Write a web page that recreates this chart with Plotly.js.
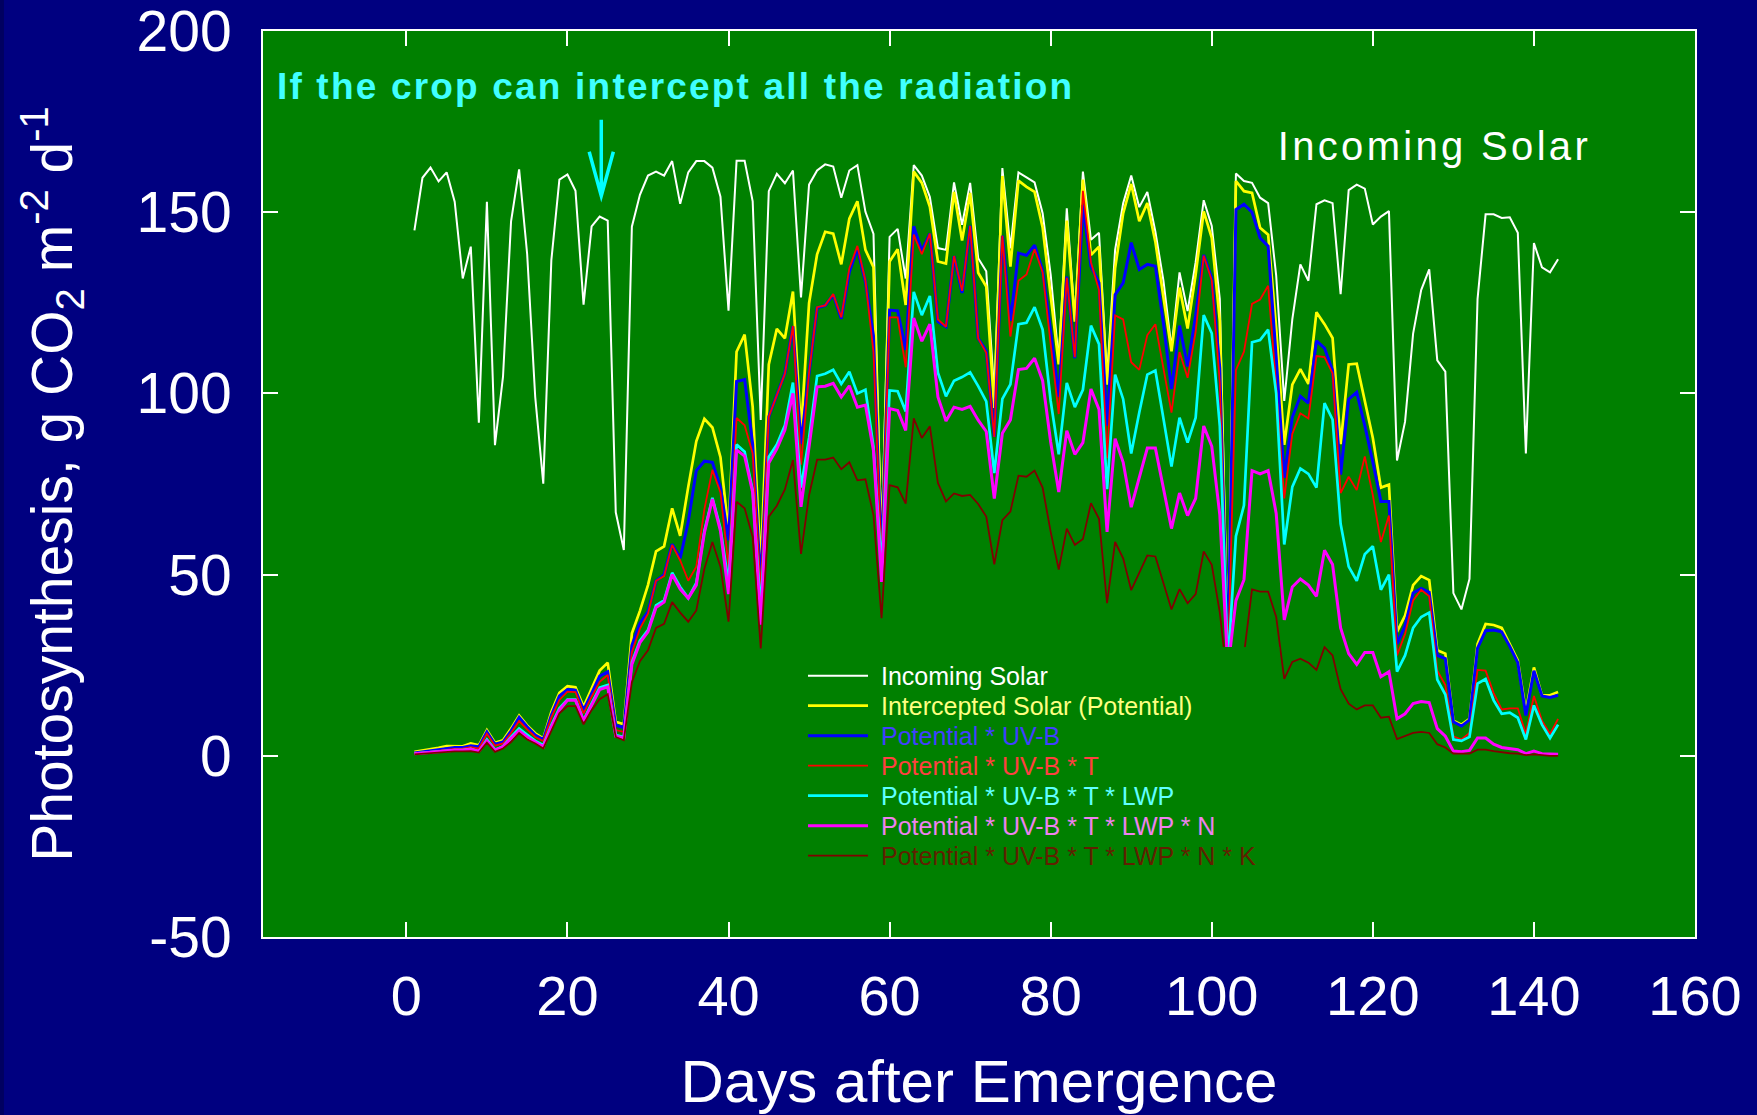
<!DOCTYPE html>
<html>
<head>
<meta charset="utf-8">
<script src="https://cdn.plot.ly/plotly-3.0.1.min.js"></script>
<style>html,body{margin:0;padding:0;background:#000080;}</style>
</head>
<body>
<div id="chart" style="width:1757px;height:1115px;"></div>
<script>
var days = [1,2,3,4,5,6,7,8,9,10,11,12,13,14,15,16,17,18,19,20,21,22,23,24,25,26,27,28,29,30,
31,32,33,34,35,36,37,38,39,40,41,42,43,44,45,46,47,48,49,50,51,52,53,54,55,56,57,58,59,60,
61,62,63,64,65,66,67,68,69,70,71,72,73,74,75,76,77,78,79,80,81,82,83,84,85,86,87,88,89,90,
91,92,93,94,95,96,97,98,99,100,101,102,103,104,105,106,107,108,109,110,111,112,113,114,115,116,117,118,119,120,
121,122,123,124,125,126,127,128,129,130,131,132,133,134,135,136,137,138,139,140,141,142,143];

var incomingSolar = [145.0,159.5,162.3,158.5,161.0,152.9,131.7,140.5,91.9,152.9,85.7,104.6,147.5,161.8,138.4,99.0,75.1,136.7,159.0,160.4,
155.9,124.5,146.1,148.8,147.7,67.2,56.8,146.0,154.8,160.1,161.2,160.1,164.1,152.3,161.0,164.1,164.1,162.3,154.3,122.8,
164.2,164.2,153.0,92.7,155.8,160.6,158.0,161.5,126.5,157.6,161.5,163.2,162.6,154.0,161.5,163.0,150.1,144.0,58,143.2,
145.4,131.7,163.0,160.1,154.2,140.1,139.6,158.2,146.5,158.1,137.3,133.7,100,162.2,140,161.0,159.6,158.2,149.7,132.8,
109.1,151.1,120.4,161.2,142.4,144.3,104.6,139.6,152.5,160.1,151.4,155.6,144.6,131.1,112.5,133.4,122.7,136.2,153.3,146.2,
126,28,160.7,158.6,158.1,154.0,152.5,132.5,97.9,120.4,135.6,131.1,152.2,153.3,152.5,127.4,156.1,157.6,156.5,146.6,
148.8,150.3,81.5,92.2,116.5,128.5,134.2,109.1,106.0,44.9,40.4,48.8,126.0,149.4,149.4,148.4,148.6,144.3,83.4,141.5,
134.8,133.4,137.0];

var intercepted = [1.1,1.4,1.7,2.2,2.7,2.7,2.6,3.4,2.9,7.1,3.6,4.3,7.5,11.1,8.4,6.2,4.8,12.1,17.4,19.2,
18.9,13.5,18.3,23.5,25.7,9.4,8.7,33.8,40.0,47.1,56.4,57.8,68.3,60.7,74.2,86.8,93.0,90.6,82.4,61.8,
111.5,116.2,96.3,52,108.0,117.8,115.2,128.1,89.5,124.9,138.4,144.6,144.1,135.6,148.2,153.0,139.6,134.8,56,136.4,
139.8,124.4,161.2,158.1,151.5,136.4,135.8,155.6,142.2,155.3,133.3,129.5,96,160.0,135.0,158.7,157.0,155.6,145.8,127.2,
108.0,147.7,119.8,159.0,138.2,140.5,102.4,134.5,149.7,157.8,147.5,152.5,141.8,126.6,111.6,129.2,117.9,132.8,150.2,142.9,
120,27,158.6,155.8,155.3,145.7,143.8,118,85.8,102.4,106.7,102.6,122.4,119.1,115.3,86.0,108.0,108.2,97.9,87.7,
74.0,74.8,34.2,38.7,47.1,49.6,48.5,29.1,28.2,9.7,8.6,10.2,30.8,36.4,36.1,35.3,30.8,26.3,12.2,24.4,
16.7,16.7,17.6];

var uvb = [0.8,1.1,1.4,1.8,2.2,2.3,2.3,2.8,2.5,6.6,3.2,3.8,6.9,10.6,8.0,5.7,4.5,11.2,16.5,18.3,
18.1,12.6,17.2,22.0,23.2,8.4,7.8,30.5,36.5,39.8,48.3,50.0,58.4,54.5,64.6,78.7,81.3,81.0,74.0,59.5,
103.3,103.8,86.0,47.6,93.6,99.6,105.5,118.5,86,105.7,123.6,124.3,127.2,120.6,133.5,140.0,130.8,115.9,54,123.0,
122.8,112,146.1,139.3,144.1,119.8,118.4,137.9,127.7,146.3,115.2,111.7,88,143.5,120,138.7,138.1,140.9,133.9,117.0,
99.0,132.2,109.7,152.0,135.1,130.5,91.1,127.2,130.5,141.6,134.2,135.6,135.1,119.3,101.2,118.7,107.4,121.5,138.2,131.8,
107,26,150.7,152.2,150.0,142.9,140.6,110,76.7,93.4,99.2,97.3,114.5,112.5,106.3,77.6,98.4,100.3,91.1,81.0,
70.2,70.2,30.8,35.9,44.9,46.2,45.1,27.7,26.8,9.4,8.2,9.9,29.7,34.5,34.7,34.2,30.2,25.7,11.1,23.5,
16.5,16.1,16.7];

var uvbT = [0.6,0.9,1.2,1.5,1.8,1.9,2.0,2.4,2.0,6.1,2.8,3.4,6.3,9.6,7.3,5.2,4.1,10.6,15.4,17.7,
17.6,11.7,16.3,20.4,22.3,7.1,6.6,28.6,35.1,39.2,48.3,49.6,58.2,53.9,48.3,52.2,68,78.9,72.7,52.2,
93.2,91.2,83.4,45.7,93.6,99.6,105.4,118.6,80.3,105.7,123.8,124.3,127.4,121.0,134.5,140.7,131.1,111.4,54,121.0,
121.0,107.2,143.8,138.4,144.1,120.4,118.4,137.9,128.3,146.2,115.2,111.2,88,143.5,115.7,131.1,132.8,139.8,133.4,113.6,
94.3,131.9,110.0,155.9,136.2,128.5,82.1,121.5,120.4,108.6,106.5,116.1,119.1,106.9,94.7,111.4,104.3,117.0,138.0,131.2,
103,25,106.4,111.5,124.7,125.9,129.7,102,71,88.8,94.5,93.1,110.3,110.0,105.5,72.5,77.0,73.3,82.6,71.9,
59.0,66.3,27.7,33.6,42.9,45.8,44.0,23.5,19.5,5.4,4.5,6.3,23.7,23.5,17.3,12.8,13.1,13.1,6.0,16.5,
9.7,6.0,10.2];

var uvbTLwp = [0.6,0.8,1.0,1.3,1.6,1.6,1.6,1.9,1.2,4.5,1.7,2.6,5.2,7.5,5.8,4.1,2.9,8.4,13.1,15.5,
15.5,9.8,14.4,18.8,19.5,5.7,5.2,25.8,31.8,34.7,41.5,42.9,50.5,46.6,43.5,47.7,62,71.2,62.8,47.6,
85.9,83.9,73.2,40.2,82.5,85.9,91.2,103.0,74,87.7,104.8,105.4,106.5,102.6,106.0,100.0,101.0,85.2,52,100.8,
100.6,95.0,128.0,121.6,126.9,105.7,99.2,103.5,104.5,105.8,102.0,97.8,78.0,98.5,102.5,119.1,119.5,123.8,117.6,97.9,
83.2,102.9,96.2,101.0,118.7,113.6,73.6,105.2,98.4,83.4,94.7,105.2,106.3,93.3,79.8,93.3,86.4,93.3,121.6,116.6,
91,25,60.6,69.1,114.1,114.7,117.6,100,58.3,74.2,79.3,77.8,74.0,97.3,92.8,64.0,52.2,48.3,55.6,57.8,
45.8,50.0,23.2,27.7,35.3,38.3,39.5,21.0,16.9,4.5,4.1,5.2,19.9,21.2,15.3,11.6,11.9,10.5,4.5,13.9,
8.6,4.9,8.6];

var uvbTLwpN = [0.6,0.8,1.0,1.2,1.5,1.5,1.5,1.8,1.3,4.1,1.5,2.5,4.8,6.9,5.2,3.8,2.5,8.0,12.6,15.3,
15.3,9.6,14.0,18.3,19.0,5.4,5.0,25.2,31.2,34.2,40.9,42.4,50.0,46.0,43.5,47.1,61.5,70.8,62.0,44.6,
84.4,82.7,72.7,36.2,80.8,84.7,89.9,100.0,68.7,85.5,101.8,102.0,102.8,99.0,102.1,96.2,96.8,84.2,48,95.8,
95.3,89.8,120.8,114.4,119.1,99.0,92.4,96.2,95.6,96.4,92.6,89.5,71.0,89.0,92.7,106.6,106.9,109.7,103.5,86.6,
72.8,89.7,83.2,86.4,101.2,95.6,61.8,87.5,81.0,68.6,76.7,84.9,84.9,73.6,62.7,72.5,66.3,71.0,91.0,85.4,
66.5,24,42.8,48.6,78.7,77.8,78.7,66.9,37.5,46.6,48.8,47.1,44.0,56.7,52.8,35.3,28.2,25.2,28.5,28.5,
21.8,23.2,10.2,11.6,14.4,15.0,14.7,7.5,5.4,1.3,1.1,1.5,4.9,4.9,3.2,2.3,2.0,1.7,0.6,1.3,
0.6,0.4,0.4];

var uvbTLwpNK = [0.4,0.6,0.8,1.0,1.2,1.2,1.2,1.3,0.9,3.6,1.1,2.0,3.8,6.3,4.5,3.4,2.0,7.1,11.7,13.7,
13.7,8.7,12.6,15.6,17.0,5.2,4.3,20.3,26.1,29.1,35.3,36.4,42.4,39.5,37.0,40.1,51.6,59.0,52.2,37.0,
70.1,68.3,60.4,29.6,66.0,69.0,73.5,81.6,55.7,71.9,81.7,81.7,82.3,79.1,81.0,76.0,76.3,66.4,38,74.7,
74.1,69.6,93.1,87.7,90.9,75.3,70.2,72.4,71.7,72.0,69.5,66.0,52.8,65.0,67.4,77.3,77.0,78.7,74.0,61.8,
51.4,62.7,58.2,59.8,69.7,65.4,42.1,59.0,54.5,45.7,50.7,55.3,55.0,47.7,40.4,46.0,42.1,44.6,56.4,52.7,
39.5,20,24,28,45.9,45.3,45.3,38.3,21.2,25.9,26.8,25.7,23.7,30.0,27.7,18.4,14.4,12.8,13.9,13.9,
10.5,10.8,4.6,5.4,6.3,6.6,6.3,3.2,2.3,0.6,0.6,0.6,1.7,1.7,1.3,0.9,0.7,0.6,0.2,0.4,
0.1,0.0,0.0];

var seriesNames = ['Incoming Solar','Intercepted Solar (Potential)','Potential * UV-B','Potential * UV-B * T',
  'Potential * UV-B * T * LWP','Potential * UV-B * T * LWP * N','Potential * UV-B * T * LWP * N * K'];
var seriesValues = [incomingSolar, intercepted, uvb, uvbT, uvbTLwp, uvbTLwpN, uvbTLwpNK];
var lineColors = ['#ffffff','#ffff00','#0000ff','#ff0000','#00ffff','#ff00ff','#800000'];
var textColors = ['#ffffff','#ffff80','#4040ff','#ff4040','#60ffff','#ee82ee','#602000'];
var lineWidths = [2, 2.7, 3, 1.8, 2.7, 3, 1.8];

var yTickVals = [-50, 0, 50, 100, 150, 200];
var xTickVals = [0, 20, 40, 60, 80, 100, 120, 140, 160];

var FONT = 'Liberation Sans, Arial, Helvetica, sans-serif';

var traces = seriesValues.map(function(vals, i){
  return {
    x: days, y: vals, type: 'scatter', mode: 'lines',
    name: '<span style="color:' + textColors[i] + '">' + seriesNames[i] + '</span>',
    line: {color: lineColors[i], width: lineWidths[i]},
    hoverinfo: 'skip'
  };
});

var layout = {
  width: 1757, height: 1115,
  paper_bgcolor: '#000080', plot_bgcolor: '#008000',
  margin: {l: 263, r: 62, t: 31, b: 178},
  font: {family: FONT, color: '#ffffff'},
  showlegend: true,
  legend: {
    x: 0.374, y: 0.315, xanchor: 'left', yanchor: 'top',
    bgcolor: 'rgba(0,0,0,0)', borderwidth: 0,
    font: {family: FONT, size: 25, color: '#ffffff'},
    itemwidth: 60, tracegroupgap: 0, traceorder: 'normal'
  },
  xaxis: {
    range: [-17.8, 160], tickvals: xTickVals, ticktext: xTickVals.map(String),
    ticks: 'inside', ticklen: 15, tickwidth: 2, tickcolor: '#ffffff',
    showline: true, linecolor: '#ffffff', linewidth: 2, mirror: 'ticks',
    showgrid: false, zeroline: false, automargin: false,
    tickfont: {family: FONT, size: 56, color: '#ffffff'},
    ticklabelstandoff: 9, ticklabeloverflow: 'allow',
    title: {text: 'Days after Emergence', font: {family: FONT, size: 60, color: '#ffffff'}, standoff: 35}
  },
  yaxis: {
    range: [-50, 200], tickvals: yTickVals, ticktext: yTickVals.map(String),
    ticks: 'inside', ticklen: 15, tickwidth: 2, tickcolor: '#ffffff',
    showline: true, linecolor: '#ffffff', linewidth: 2, mirror: 'ticks',
    showgrid: false, zeroline: false, automargin: false,
    tickfont: {family: FONT, size: 57, color: '#ffffff'},
    ticklabelstandoff: 18, ticklabeloverflow: 'allow',
    title: {text: 'Photosynthesis, g CO<sub>2</sub> m<sup>-2</sup> d<sup>-1</sup>',
            font: {family: FONT, size: 57, color: '#ffffff'}, standoff: 46}
  },
  annotations: [
    {x: 33.4, y: 184.6, xref: 'x', yref: 'y', showarrow: false,
     text: '<b>If the crop can intercept all the radiation</b>',
     font: {family: FONT, size: 37, color: '#40ffff'}, xanchor: 'center', yanchor: 'middle'},
    {x: 127.6, y: 168.4, xref: 'x', yref: 'y', showarrow: false,
     text: 'Incoming Solar',
     font: {family: FONT, size: 40, color: '#ffffff'}, xanchor: 'center', yanchor: 'middle'}
  ],
  shapes: [
    {type: 'path', xref: 'x', yref: 'y',
     path: 'M 24.2,175.5 L 24.2,154.5 M 22.7,166.7 L 24.2,154.5 L 25.7,166.7',
     line: {color: '#00ffff', width: 3.5}},
    {type: 'rect', xref: 'x', yref: 'y', layer: 'above',
     x0: 48.6, x1: 108.4, y0: -32.7, y1: 30.0,
     fillcolor: '#008000', line: {width: 0}},
    {type: 'rect', xref: 'paper', yref: 'paper', layer: 'below',
     x0: -0.1837, x1: -0.1809, y0: -0.2, y1: 1.04,
     fillcolor: '#000060', line: {width: 0}}
  ]
};

Plotly.newPlot('chart', traces, layout, {displayModeBar: false, staticPlot: true}).then(function(gd){
  var targets = {'If the crop can intercept all the radiation': 795, 'Incoming Solar': 310};
  document.querySelectorAll('.annotation-text').forEach(function(el){
    var t = el.textContent;
    if (targets[t]) {
      var len = el.getComputedTextLength();
      var sp = (targets[t] - len) / (t.length - 1);
      if (sp > 0) el.style.letterSpacing = sp.toFixed(2) + 'px';
    }
  });
  var sb = gd.querySelector('.legend .scrollbox');
  if (sb) sb.removeAttribute('clip-path');
  var items = gd.querySelectorAll('.legend .traces');
  items.forEach(function(item, i){
    var line = item.querySelector('.legendlines path') || item.querySelector('path');
    if (!line) return;
    var r = line.getBoundingClientRect();
    var dy = (675.7 + i * 30) - (r.top + r.height / 2);
    var dx = 808 - r.left;
    var m = /translate\(\s*([-\d.e]+)[ ,]+([-\d.e]+)\s*\)/.exec(item.getAttribute('transform') || 'translate(0,0)');
    var tx = m ? parseFloat(m[1]) : 0, ty = m ? parseFloat(m[2]) : 0;
    item.setAttribute('transform', 'translate(' + (tx + dx) + ',' + (ty + dy) + ')');
    var txt = item.querySelector('.legendtext');
    if (txt) {
      var tr = txt.getBoundingClientRect();
      txt.setAttribute('transform', 'translate(' + (881 - tr.left) + ',0)');
    }
  });
});
</script>
</body>
</html>
